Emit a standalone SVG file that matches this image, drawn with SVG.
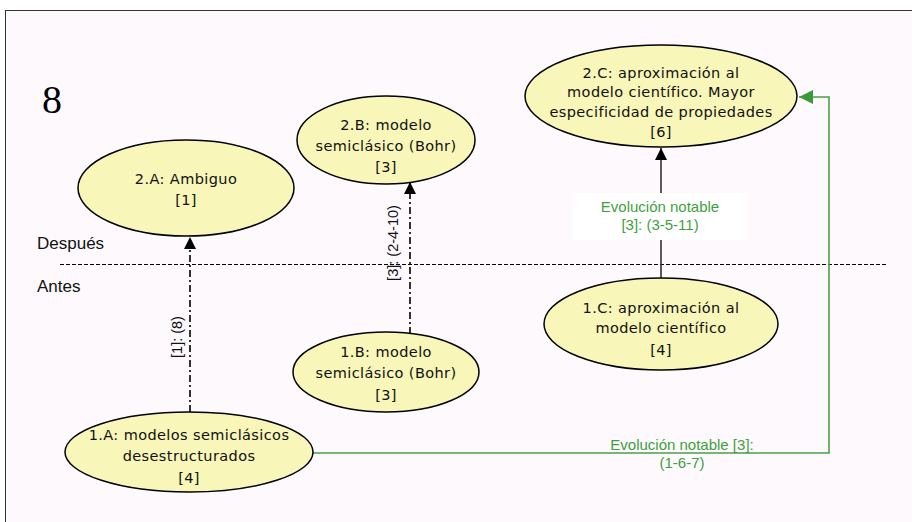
<svg xmlns="http://www.w3.org/2000/svg" width="912" height="522" viewBox="0 0 912 522">
<style>
.node ellipse{fill:#f8f6b8;stroke:#000;stroke-width:1.5}
.node text{font-family:"DejaVu Sans",sans-serif;font-size:14.5px;letter-spacing:0.4px;fill:#111;text-anchor:middle}
.lbl{font-family:"Liberation Sans",Arial,sans-serif;font-size:14.5px;fill:#111;text-anchor:middle}
.glbl{font-family:"Liberation Sans",Arial,sans-serif;font-size:15px;fill:#3f9f3f;text-anchor:middle}
.side{font-family:"Liberation Sans",Arial,sans-serif;font-size:17px;fill:#111}
.dd{stroke:#000;stroke-width:1.6;fill:none;stroke-dasharray:7 3 2 3}
</style>
<defs>
<marker id="ab" viewBox="0 0 12 12" refX="12" refY="6" markerWidth="12" markerHeight="12" markerUnits="userSpaceOnUse" orient="auto"><path d="M0,0 L12,6 L0,12 Z" fill="#000"/></marker>
<marker id="ag" viewBox="0 0 12 12" refX="12" refY="6" markerWidth="14" markerHeight="14" markerUnits="userSpaceOnUse" orient="auto"><path d="M0,0 L12,6 L0,12 Z" fill="#3a9a3a"/></marker>
</defs>
<rect x="0" y="0" width="912" height="522" fill="#fff"/>
<rect x="5.5" y="10.5" width="920" height="530" fill="#fdf9fd" stroke="#333" stroke-width="1"/>
<text x="42" y="113" font-family="Liberation Serif,serif" font-size="40" fill="#000">8</text>
<text class="side" x="37" y="249">Después</text>
<text class="side" x="37" y="292">Antes</text>
<line x1="60" y1="264.5" x2="886" y2="264.5" stroke="#000" stroke-width="1" stroke-dasharray="4 2"/>
<g id="connectors">
<line class="dd" x1="190" y1="412" x2="190" y2="237" marker-end="url(#ab)"/>
<text class="lbl" transform="translate(182,337) rotate(-90)">[1]: (8)</text>
<line class="dd" x1="410" y1="334" x2="410" y2="182" marker-end="url(#ab)"/>
<text class="lbl" transform="translate(398,243) rotate(-90)">[3]: (2-4-10)</text>
<line x1="661" y1="278" x2="661" y2="148" stroke="#333" stroke-width="1.6" marker-end="url(#ab)"/>
<rect x="573" y="193" width="174" height="47" fill="#fff"/>
<text class="glbl" x="660" y="212">Evolución notable</text>
<text class="glbl" x="660" y="230">[3]: (3-5-11)</text>
<path d="M313,453 H829 V97 H799" fill="none" stroke="#4aa04a" stroke-width="1.6" marker-end="url(#ag)"/>
<text class="glbl" x="682" y="450">Evolución notable [3]:</text>
<text class="glbl" x="682" y="468">(1-6-7)</text>
</g>
<g id="n2A" class="node"><ellipse cx="186" cy="188" rx="108" ry="48"/><text x="186" y="184">2.A: Ambiguo</text><text x="186" y="205">[1]</text></g>
<g id="n2B" class="node"><ellipse cx="386" cy="140" rx="89" ry="44"/><text x="386" y="130">2.B: modelo</text><text x="386" y="151">semiclásico (Bohr)</text><text x="386" y="172">[3]</text></g>
<g id="n2C" class="node"><ellipse cx="661" cy="96" rx="136" ry="51"/><text x="661" y="78">2.C: aproximación al</text><text x="661" y="97">modelo científico. Mayor</text><text x="661" y="117">especificidad de propiedades</text><text x="661" y="137">[6]</text></g>
<g id="n1A" class="node"><ellipse cx="189" cy="452" rx="124" ry="40"/><text x="189" y="440">1.A: modelos semiclásicos</text><text x="189" y="461">desestructurados</text><text x="189" y="483">[4]</text></g>
<g id="n1B" class="node"><ellipse cx="386" cy="372" rx="93" ry="40"/><text x="386" y="357">1.B: modelo</text><text x="386" y="378">semiclásico (Bohr)</text><text x="386" y="400">[3]</text></g>
<g id="n1C" class="node"><ellipse cx="661" cy="324" rx="117" ry="46"/><text x="661" y="313">1.C: aproximación al</text><text x="661" y="333">modelo científico</text><text x="661" y="355">[4]</text></g>
</svg>
